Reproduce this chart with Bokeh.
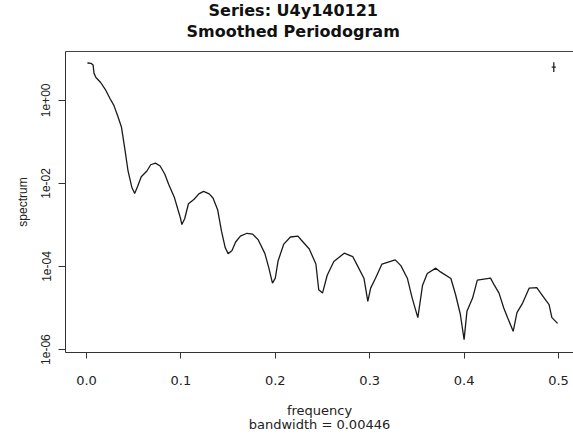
from bokeh.plotting import figure
from bokeh.models import Range1d, FixedTicker, NumeralTickFormatter, LinearAxis, Title
from bokeh.embed import file_html
from bokeh.resources import INLINE

# ---- data ----
freq = [0.001, 0.005, 0.007, 0.008, 0.010, 0.015, 0.020, 0.025, 0.029, 0.033,
        0.037, 0.041, 0.044, 0.048, 0.051, 0.054, 0.058, 0.064, 0.068, 0.073,
        0.078, 0.083, 0.087, 0.093, 0.097, 0.0996, 0.101, 0.104, 0.108, 0.114,
        0.119, 0.124, 0.130, 0.134, 0.139, 0.143, 0.147, 0.150, 0.154, 0.158,
        0.163, 0.170, 0.176, 0.182, 0.189, 0.193, 0.197, 0.200, 0.203, 0.209,
        0.216, 0.224, 0.227, 0.236, 0.243, 0.246, 0.250, 0.255, 0.262, 0.273,
        0.282, 0.287, 0.294, 0.298, 0.301, 0.306, 0.313, 0.327, 0.333, 0.340,
        0.345, 0.351, 0.356, 0.361, 0.370, 0.375, 0.386, 0.391, 0.396, 0.400,
        0.403, 0.409, 0.414, 0.428, 0.432, 0.437, 0.442, 0.446, 0.452, 0.456,
        0.462, 0.469, 0.477, 0.483, 0.490, 0.493, 0.499]
spec_log10 = [0.90, 0.89, 0.85, 0.65, 0.55, 0.43, 0.26, 0.04, -0.12, -0.37,
              -0.64, -1.23, -1.70, -2.09, -2.24, -2.08, -1.84, -1.70, -1.55, -1.51,
              -1.58, -1.78, -2.02, -2.33, -2.64, -2.84, -2.99, -2.85, -2.49, -2.38,
              -2.25, -2.19, -2.25, -2.35, -2.64, -3.15, -3.55, -3.69, -3.62, -3.41,
              -3.27, -3.20, -3.22, -3.36, -3.69, -4.02, -4.40, -4.28, -3.86, -3.46,
              -3.29, -3.27, -3.35, -3.58, -3.94, -4.56, -4.64, -4.21, -3.88, -3.68,
              -3.76, -3.98, -4.29, -4.84, -4.52, -4.29, -3.94, -3.84, -3.98, -4.29,
              -4.76, -5.23, -4.45, -4.17, -4.04, -4.13, -4.29, -4.68, -5.15, -5.76,
              -5.08, -4.76, -4.33, -4.28, -4.45, -4.64, -5.00, -5.23, -5.56, -5.11,
              -4.88, -4.52, -4.51, -4.70, -4.92, -5.23, -5.37]
spectrum = [10 ** v for v in spec_log10]

x_ticks = [0.0, 0.1, 0.2, 0.3, 0.4, 0.5]
y_ticks = [1.0, 0.01, 0.0001, 1e-06]
y_tick_labels = ["1e+00", "1e-02", "1e-04", "1e-06"]

# bandwidth / confidence-interval mark (top right)
ci_x = [0.495]
ci_lo_log10 = [0.68]
ci_hi_log10 = [0.92]
ci_mid_log10 = [0.80]
bandwidth = 0.00446

title_lines = ["Series: U4y140121", "Smoothed Periodogram"]
x_label_lines = ["frequency", "bandwidth = 0.00446"]
y_label = "spectrum"

# ---- geometry (page pixels) ----
PX0, PXU = 86.0, 944.0      # x pixel of freq 0, pixels per unit freq
PY0, PYD = 101.0, 42.5      # y pixel of 1e+00, pixels per decade

def X(px):
    return (px - PX0) / PXU

def Y(py):
    return 10 ** ((PY0 - py) / PYD)

W, H = 573, 434
p = figure(width=W, height=H, output_backend="svg", toolbar_location=None,
           y_axis_type="log", title=None,
           x_range=Range1d(X(65), X(573)), y_range=Range1d(Y(359), Y(51)),
           min_border_left=65, min_border_right=0, min_border_top=51,
           min_border_bottom=75)
p.outline_line_color = None
p.grid.visible = False
p.background_fill_color = "white"
p.border_fill_color = "white"

# axes
xa = p.xaxis[0]
xa.ticker = FixedTicker(ticks=x_ticks)
xa.formatter = NumeralTickFormatter(format="0.0")
xa.minor_tick_line_color = None
xa.major_tick_out = 6
xa.major_tick_in = 0
xa.major_label_standoff = 17
xa.major_label_text_font = "DejaVu Sans"
xa.major_label_text_font_size = "13px"
xa.major_label_text_color = "#222222"
xa.axis_line_color = "#333333"
xa.major_tick_line_color = "#333333"
xa.axis_label = x_label_lines[0]
xa.axis_label_text_font = "DejaVu Sans"
xa.axis_label_text_font_size = "13px"
xa.axis_label_text_font_style = "normal"
xa.axis_label_text_color = "#222222"
xa.axis_label_standoff = 15

xb = LinearAxis(axis_line_color=None, major_tick_line_color=None,
                minor_tick_line_color=None, major_label_text_color=None,
                major_label_text_font_size="1px", major_label_standoff=0,
                major_tick_out=0, major_tick_in=0,
                axis_label=x_label_lines[1], axis_label_standoff=-8,
                axis_label_text_font="DejaVu Sans", axis_label_text_font_size="13px",
                axis_label_text_font_style="normal", axis_label_text_color="#222222")
p.add_layout(xb, "below")

ya = p.yaxis[0]
ya.ticker = FixedTicker(ticks=y_ticks)
ya.major_label_overrides = dict(zip(y_ticks, y_tick_labels))
ya.minor_tick_line_color = None
ya.major_tick_out = 7
ya.major_tick_in = 0
ya.major_label_standoff = 8
ya.major_label_orientation = "vertical"
ya.major_label_text_font = "Liberation Sans"
ya.major_label_text_font_size = "12px"
ya.major_label_text_color = "#222222"
ya.axis_line_color = "#333333"
ya.major_tick_line_color = "#333333"
ya.axis_label = y_label
ya.axis_label_text_font = "Liberation Sans"
ya.axis_label_text_font_size = "12px"
ya.axis_label_text_font_style = "normal"
ya.axis_label_text_color = "#222222"
ya.axis_label_standoff = 9

top = LinearAxis(major_tick_line_color=None, minor_tick_line_color=None,
                 major_label_text_color=None, axis_line_color="#444444",
                 major_label_text_font_size="1px", major_label_standoff=0,
                 major_tick_out=0, major_tick_in=0)
p.add_layout(top, "above")

# titles: the one added first sits closest to the plot
p.add_layout(Title(text=title_lines[1], align="left", offset=121, standoff=14,
                   text_font="DejaVu Sans", text_font_style="bold",
                   text_font_size="16px", text_color="#111111"), "above")
p.add_layout(Title(text=title_lines[0], align="left", offset=143, standoff=-14,
                   text_font="DejaVu Sans", text_font_style="bold",
                   text_font_size="16px", text_color="#111111"), "above")

# spectrum line
p.line(freq, spectrum, line_color="#1a1a1a", line_width=1.3)

# CI / bandwidth cross
p.segment(x0=ci_x, y0=[10 ** v for v in ci_lo_log10],
          x1=ci_x, y1=[10 ** v for v in ci_hi_log10],
          line_color="#222222", line_width=1.3)
p.segment(x0=[c - bandwidth / 2 for c in ci_x], y0=[10 ** v for v in ci_mid_log10],
          x1=[c + bandwidth / 2 for c in ci_x], y1=[10 ** v for v in ci_mid_log10],
          line_color="#222222", line_width=1.3)

open("out.html", "w").write(file_html(p, INLINE))
